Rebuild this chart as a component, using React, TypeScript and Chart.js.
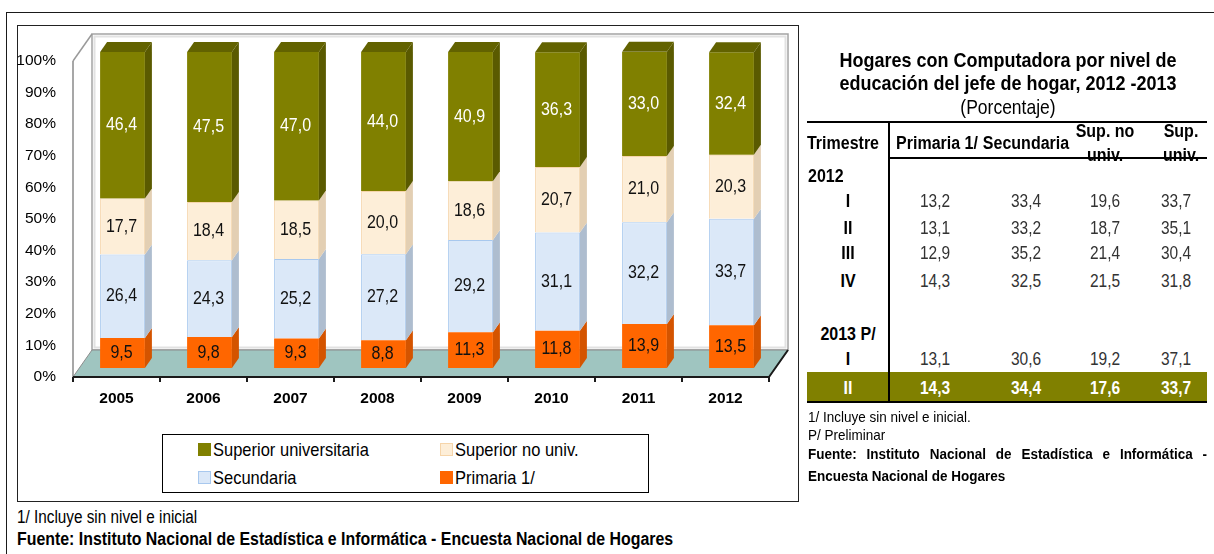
import React, { useEffect, useRef } from 'react';
import { Chart, registerables } from 'chart.js';
Chart.register(...registerables);

const FONT = '"Liberation Sans", Arial, sans-serif';

// ---------- chart data ----------
const YEARS = ['2005', '2006', '2007', '2008', '2009', '2010', '2011', '2012'];
const PRIMARIA = [9.5, 9.8, 9.3, 8.8, 11.3, 11.8, 13.9, 13.5];
const SECUNDARIA = [26.4, 24.3, 25.2, 27.2, 29.2, 31.1, 32.2, 33.7];
const SUP_NO_UNIV = [17.7, 18.4, 18.5, 20.0, 18.6, 20.7, 21.0, 20.3];
const SUP_UNIV = [46.4, 47.5, 47.0, 44.0, 40.9, 36.3, 33.0, 32.4];
const SERIES_NAMES = ['Primaria 1/', 'Secundaria', 'Superior no univ.', 'Superior universitaria'];
const SERIES_VALUES = [PRIMARIA, SECUNDARIA, SUP_NO_UNIV, SUP_UNIV];
const Y_MAX = 100;
const Y_STEP = 10;

// ---------- table data ----------
const TABLE_TITLE_1 = 'Hogares con Computadora por nivel de';
const TABLE_TITLE_2 = 'educación del jefe de hogar, 2012 -2013';
const TABLE_SUBTITLE = '(Porcentaje)';
const TABLE_YEARS = ['2012', '2013 P/'];
const TRIM_LABELS = ['I', 'II', 'III', 'IV', 'I', 'II'];
const T_PRIMARIA = [13.2, 13.1, 12.9, 14.3, 13.1, 14.3];
const T_SECUNDARIA = [33.4, 33.2, 35.2, 32.5, 30.6, 34.4];
const T_SUP_NO_UNIV = [19.6, 18.7, 21.4, 21.5, 19.2, 17.6];
const T_SUP_UNIV = [33.7, 35.1, 30.4, 31.8, 37.1, 33.7];

// ---------- styles ----------
const FRONT = ['#ff6600', '#dbe8f8', '#fdeed8', '#808000'];
const SIDE = ['#d45400', '#aebdcf', '#e3cfb3', '#5a5a00'];
const TOPC = ['#e85d00', '#c4d4e6', '#f0dcc0', '#626200'];
const BORDER = ['#ff6600', '#a8c8ee', '#f6d5aa', '#808000'];
const LABEL_COLOR = ['#111', '#111', '#111', '#ffffff'];
const STRETCH = 1.15;

const AX_SHIFT_X = 6;
const AX_SHIFT_Y = 9;
const WALL_DX = 19;
const WALL_DY = -27;
const BAR_DX = 7;
const BAR_DY = -10;

function fmt(v: number) {
  return v.toFixed(1).replace('.', ',');
}

const threeD = {
  id: 'threeD',
  beforeDatasetsDraw(chart: any) {
    const { ctx, chartArea, scales } = chart;
    const ys = scales.y;
    const n = chart.data.labels.length;
    const fx0 = chartArea.left - AX_SHIFT_X;
    const fx1 = chartArea.right - AX_SHIFT_X;
    const fy0 = ys.getPixelForValue(0) + AX_SHIFT_Y;
    const fyT = ys.getPixelForValue(Y_MAX) + AX_SHIFT_Y;
    const bx0 = fx0 + WALL_DX, bx1 = fx1 + WALL_DX, by0 = fy0 + WALL_DY, byT = fyT + WALL_DY;
    ctx.save();
    ctx.fillStyle = '#ffffff';
    ctx.fillRect(bx0, byT, bx1 - bx0, by0 - byT);
    ctx.strokeStyle = '#e2e2e2';
    ctx.lineWidth = 2;
    ctx.strokeRect(bx0 + 2.5, byT + 2.5, bx1 - bx0 - 5, by0 - byT - 5);
    ctx.strokeStyle = '#a4a4a4';
    ctx.lineWidth = 1.5;
    ctx.strokeRect(bx0, byT, bx1 - bx0, by0 - byT);
    ctx.beginPath();
    ctx.moveTo(fx0, fyT);
    ctx.lineTo(bx0, byT);
    ctx.strokeStyle = '#9a9a9a';
    ctx.lineWidth = 1.5;
    ctx.stroke();
    ctx.beginPath();
    ctx.moveTo(fx0, fy0);
    ctx.lineTo(fx1, fy0);
    ctx.lineTo(bx1, by0);
    ctx.lineTo(bx0, by0);
    ctx.closePath();
    ctx.fillStyle = '#9fc5c0';
    ctx.fill();
    ctx.strokeStyle = '#8c8c8c';
    ctx.lineWidth = 1;
    ctx.stroke();
    ctx.beginPath();
    ctx.moveTo(fx0, fyT);
    ctx.lineTo(fx0, fy0);
    ctx.strokeStyle = '#8a8a8a';
    ctx.lineWidth = 1.5;
    ctx.stroke();
    ctx.beginPath();
    ctx.moveTo(fx0, fy0);
    ctx.lineTo(fx1, fy0);
    for (let k = 0; k <= n; k++) {
      const x = fx0 + (k * (fx1 - fx0)) / n;
      ctx.moveTo(x, fy0);
      ctx.lineTo(x, fy0 + 5);
    }
    ctx.moveTo(fx1, fy0);
    ctx.lineTo(bx1, by0);
    ctx.strokeStyle = '#1a1a1a';
    ctx.lineWidth = 2;
    ctx.stroke();
    ctx.restore();
  },
  afterDatasetsDraw(chart: any) {
    const { ctx } = chart;
    const nd = chart.data.datasets.length;
    ctx.save();
    for (let d = 0; d < nd; d++) {
      const meta = chart.getDatasetMeta(d);
      meta.data.forEach((el: any) => {
        const { x, y, base, width } = el.getProps(['x', 'y', 'base', 'width'], true);
        const xl = x - width / 2;
        const xr = x + width / 2;
        ctx.beginPath();
        ctx.moveTo(xr, y);
        ctx.lineTo(xr + BAR_DX, y + BAR_DY);
        ctx.lineTo(xr + BAR_DX, base + BAR_DY);
        ctx.lineTo(xr, base);
        ctx.closePath();
        ctx.fillStyle = SIDE[d];
        ctx.fill();
        if (d === nd - 1) {
          ctx.beginPath();
          ctx.moveTo(xl, y);
          ctx.lineTo(xl + BAR_DX, y + BAR_DY);
          ctx.lineTo(xr + BAR_DX, y + BAR_DY);
          ctx.lineTo(xr, y);
          ctx.closePath();
          ctx.fillStyle = TOPC[d];
          ctx.fill();
        }
      });
    }
    ctx.font = `16px ${FONT}`;
    ctx.textAlign = 'center';
    ctx.textBaseline = 'middle';
    for (let d = 0; d < nd; d++) {
      const meta = chart.getDatasetMeta(d);
      const vals = chart.data.datasets[d].data;
      meta.data.forEach((el: any, i: number) => {
        const { x, y, base } = el.getProps(['x', 'y', 'base'], true);
        ctx.save();
        ctx.translate(x - 1, (y + base) / 2);
        ctx.scale(1, STRETCH);
        ctx.fillStyle = LABEL_COLOR[d];
        ctx.fillText(fmt(vals[i]), 0, 0);
        ctx.restore();
      });
    }
    ctx.restore();
  },
};

function ChartCanvas() {
  const ref = useRef<HTMLCanvasElement | null>(null);
  useEffect(() => {
    if (!ref.current) return;
    const chart = new Chart(ref.current, {
      type: 'bar',
      data: {
        labels: YEARS,
        datasets: SERIES_VALUES.map((vals, i) => ({
          label: SERIES_NAMES[i],
          data: vals,
          backgroundColor: FRONT[i],
          borderColor: BORDER[i],
          borderWidth: i === 1 || i === 2 ? 1 : 0,
          categoryPercentage: 1,
          barPercentage: 0.515,
        })),
      },
      options: {
        responsive: false,
        animation: false,
        devicePixelRatio: 1,
        layout: { padding: { left: 0, right: 25, top: 52, bottom: 22 } },
        plugins: { legend: { display: false }, tooltip: { enabled: false } },
        scales: {
          x: {
            stacked: true,
            grid: { display: false, drawTicks: false },
            border: { display: false },
            ticks: {
              color: '#000',
              font: { family: FONT, size: 15.5, weight: 'bold' },
              labelOffset: -AX_SHIFT_X,
              padding: 21,
            },
            afterFit: (a: any) => {
              a.height = 40;
            },
          },
          y: {
            stacked: true,
            min: 0,
            max: Y_MAX,
            grid: { display: false, drawTicks: false },
            border: { display: false },
            ticks: {
              stepSize: Y_STEP,
              color: '#000',
              font: { family: FONT, size: 15.5 },
              labelOffset: AX_SHIFT_Y,
              padding: 23,
              callback: (v: any) => `${v}%`,
            },
            afterFit: (a: any) => {
              a.width = 79;
            },
          },
        },
      } as any,
      plugins: [threeD],
    });
    return () => chart.destroy();
  }, []);
  return (
    <canvas
      ref={ref}
      width={800}
      height={430}
      style={{ position: 'absolute', left: 0, top: 0, width: 800, height: 430 }}
    />
  );
}

type TxtProps = {
  x: number;
  y: number;
  children: React.ReactNode;
  align?: 'left' | 'center' | 'right';
  size?: number;
  bold?: boolean;
  color?: string;
  w?: number;
};
function Txt({ x, y, children, align = 'left', size = 15, bold = false, color = '#000', w = 300 }: TxtProps) {
  const left = align === 'left' ? x : align === 'center' ? x - w / 2 : x - w;
  const lh = Math.round(size * 1.2);
  return (
    <div
      style={{
        position: 'absolute',
        left,
        top: y - lh / 2,
        width: w,
        height: lh,
        lineHeight: `${lh}px`,
        fontSize: size,
        fontWeight: bold ? 700 : 400,
        textAlign: align,
        color,
        whiteSpace: 'nowrap',
        transform: `scaleY(${STRETCH})`,
        transformOrigin: 'center center',
      }}
    >
      {children}
    </div>
  );
}

function Line({ x, y, w, h, c = '#000' }: { x: number; y: number; w: number; h: number; c?: string }) {
  return <div style={{ position: 'absolute', left: x, top: y, width: w, height: h, background: c }} />;
}

const LEGEND_ORDER = [3, 2, 1, 0];

export default function App() {
  const colX = [935, 1026, 1105, 1176];
  const rowY = [200, 227, 252, 280, 358, 387];
  const tableCols = [T_PRIMARIA, T_SECUNDARIA, T_SUP_NO_UNIV, T_SUP_UNIV];
  return (
    <div
      style={{
        position: 'absolute',
        left: 0,
        top: 0,
        width: 1214,
        height: 554,
        background: '#fff',
        fontFamily: FONT,
        color: '#000',
        overflow: 'hidden',
      }}
    >
      <div
        style={{
          position: 'absolute',
          left: 6,
          top: 12,
          width: 1220,
          height: 560,
          borderTop: '1.5px solid #1a1a1a',
          borderLeft: '1.5px solid #1a1a1a',
        }}
      />
      <div
        style={{
          position: 'absolute',
          left: 17,
          top: 25,
          width: 782,
          height: 477,
          border: '1.5px solid #222',
          boxSizing: 'border-box',
        }}
      />
      <ChartCanvas />
      <div
        style={{
          position: 'absolute',
          left: 162,
          top: 434,
          width: 487,
          height: 59,
          border: '1.5px solid #000',
          boxSizing: 'border-box',
        }}
      />
      {LEGEND_ORDER.map((si, k) => {
        const col = k % 2;
        const row = Math.floor(k / 2);
        const mx = col === 0 ? 198 : 440;
        const cy = row === 0 ? 449 : 477;
        return (
          <React.Fragment key={si}>
            <div
              style={{
                position: 'absolute',
                left: mx,
                top: cy - 6.5,
                width: 13,
                height: 13,
                background: FRONT[si],
                border: `1px solid ${BORDER[si]}`,
                boxSizing: 'border-box',
              }}
            />
            <Txt x={mx + 15} y={cy} size={16.5}>
              {SERIES_NAMES[si]}
            </Txt>
          </React.Fragment>
        );
      })}
      <Txt x={17} y={517} size={15.3}>
        1/ Incluye sin nivel e inicial
      </Txt>
      <Txt x={17} y={538} size={15.9} bold w={800}>
        Fuente: Instituto Nacional de Estadística e Informática - Encuesta Nacional de Hogares
      </Txt>

      <Txt x={1008} y={60} size={18} bold align="center" w={420}>
        {TABLE_TITLE_1}
      </Txt>
      <Txt x={1008} y={83} size={18} bold align="center" w={420}>
        {TABLE_TITLE_2}
      </Txt>
      <Txt x={1008} y={107} size={17.5} align="center" w={300}>
        {TABLE_SUBTITLE}
      </Txt>

      <Line x={807} y={372} w={400} h={30} c="#808000" />

      <Txt x={843} y={142} size={16} bold align="center" w={90}>
        Trimestre
      </Txt>
      <Txt x={937} y={142} size={16} bold align="center" w={100}>
        Primaria 1/
      </Txt>
      <Txt x={1026} y={142} size={16} bold align="center" w={100}>
        Secundaria
      </Txt>
      <Txt x={1105} y={130} size={16} bold align="center" w={80}>
        Sup. no
      </Txt>
      <Txt x={1105} y={154} size={16} bold align="center" w={80}>
        univ.
      </Txt>
      <Txt x={1181} y={130} size={16} bold align="center" w={60}>
        Sup.
      </Txt>
      <Txt x={1181} y={154} size={16} bold align="center" w={60}>
        univ.
      </Txt>

      <Txt x={808} y={175} size={16} bold>
        {TABLE_YEARS[0]}
      </Txt>
      <Txt x={848} y={333} size={16} bold align="center" w={90}>
        {TABLE_YEARS[1]}
      </Txt>

      {TRIM_LABELS.map((lab, r) => {
        const hl = r === TRIM_LABELS.length - 1;
        const color = hl ? '#ffffff' : '#333333';
        return (
          <React.Fragment key={r}>
            <Txt x={848} y={rowY[r]} size={16} bold align="center" w={60} color={hl ? '#fff' : '#000'}>
              {lab}
            </Txt>
            {tableCols.map((col, c) => (
              <Txt key={c} x={colX[c]} y={rowY[r]} size={15.5} bold={hl} align="center" w={70} color={color}>
                {fmt(col[r])}
              </Txt>
            ))}
          </React.Fragment>
        );
      })}

      <Line x={807} y={121} w={400} h={2} />
      <Line x={889} y={157} w={318} h={2} />
      <Line x={888} y={122} w={2} h={280} />
      <Line x={807} y={401} w={400} h={2} />

      <Txt x={808} y={417} size={13.5}>
        1/ Incluye sin nivel e inicial.
      </Txt>
      <Txt x={808} y={435} size={13.5}>
        P/ Preliminar
      </Txt>
      <div
        style={{
          position: 'absolute',
          left: 808,
          top: 445.5,
          width: 399,
          fontSize: 13.5,
          lineHeight: '19px',
          fontWeight: 700,
          textAlign: 'justify',
          transform: `scaleY(${STRETCH})`,
          transformOrigin: 'center center',
        }}
      >
        Fuente: Instituto Nacional de Estadística e Informática - Encuesta Nacional de Hogares
      </div>
    </div>
  );
}
